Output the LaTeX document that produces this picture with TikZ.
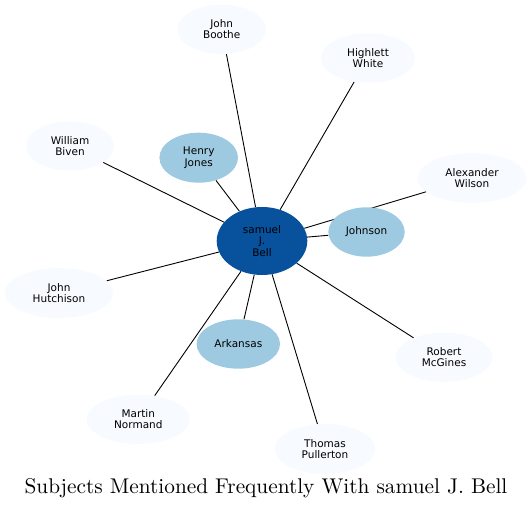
\documentclass[tikz,border=0pt]{standalone}
\usepackage{fontspec}
\newfontfamily\nodefont{DejaVu Sans}
\newfontfamily\titlefont{lmroman10-regular.otf}
\usetikzlibrary{shapes.geometric,backgrounds}
\definecolor{cdark}{HTML}{08519C}
\definecolor{cmid}{HTML}{9ECAE1}
\definecolor{clight}{HTML}{F7FBFF}
\tikzset{
  base/.style={ellipse, inner sep=0pt, align=center, text=black,
    font=\nodefont\fontsize{10.5}{11.5}\selectfont},
  centernode/.style={base, fill=cdark},
  midnode/.style={base, fill=cmid},
  outernode/.style={base, fill=clight},
  link/.style={draw=black, line width=0.9pt},
}
\begin{document}
\begin{tikzpicture}[x=1pt,y=1pt]
\useasboundingbox (0,0) rectangle (532,510);
\node[centernode, minimum width=90.6pt, minimum height=68pt] (bell) at (262,{510-241}) {samuel\\J.\\Bell};
\node[midnode, minimum width=78.6pt, minimum height=50pt] (henry) at (198.7,{510-157.7}) {Henry\\Jones};
\node[midnode, minimum width=76.4pt, minimum height=49.4pt] (johnson) at (366.5,{510-232}) {Johnson};
\node[midnode, minimum width=83.4pt, minimum height=49.4pt] (arkansas) at (238.3,{510-344}) {Arkansas};
\node[outernode, minimum width=88.6pt, minimum height=49.4pt] (boothe) at (221.7,{510-29.3}) {John\\Boothe};
\node[outernode, minimum width=94pt, minimum height=49.4pt] (highlett) at (368,{510-58}) {Highlett\\White};
\node[outernode, minimum width=88pt, minimum height=49.4pt] (william) at (70,{510-146}) {William\\Biven};
\node[outernode, minimum width=109pt, minimum height=50pt] (alexander) at (472,{510-178}) {Alexander\\Wilson};
\node[outernode, minimum width=108.6pt, minimum height=50pt] (hutchison) at (59,{510-293}) {John\\Hutchison};
\node[outernode, minimum width=97pt, minimum height=49.4pt] (robert) at (444,{510-357.3}) {Robert\\McGines};
\node[outernode, minimum width=103.4pt, minimum height=49.4pt] (martin) at (138.3,{510-419.3}) {Martin\\Normand};
\node[outernode, minimum width=100.6pt, minimum height=50pt] (thomas) at (325,{510-449}) {Thomas\\Pullerton};
\begin{pgfonlayer}{background}
\foreach \n in {henry,johnson,arkansas,boothe,highlett,william,alexander,hutchison,robert,martin,thomas}
  \draw[link] (bell) -- (\n);
\end{pgfonlayer}
\node[anchor=base, inner sep=0pt, font=\titlefont\fontsize{21.3}{25}\selectfont] (title) at (266,{510-494}) {Subjects Mentioned Frequently With samuel J. Bell};
\end{tikzpicture}
\end{document}
